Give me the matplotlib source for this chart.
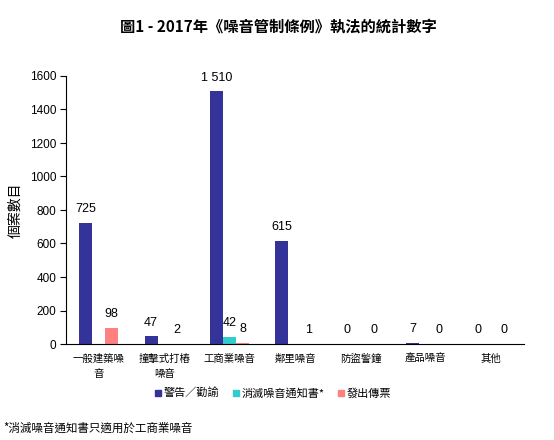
import matplotlib
matplotlib.use("Agg")
import matplotlib.pyplot as plt
import numpy as np

plt.rcParams['font.family'] = ['Noto Sans CJK TC', 'DejaVu Sans']

categories = ["一般建築噪\n音", "撞擊式打樁\n噪音", "工商業噪音", "鄰里噪音", "防盜警鐘", "產品噪音", "其他"]
warnings = [725, 47, 1510, 615, 0, 7, 0]
notices = [np.nan, np.nan, 42, np.nan, np.nan, np.nan, np.nan]
tickets = [98, 2, 8, 1, 0, 0, 0]
series_names = ["警告／勸諭", "消滅噪音通知書*", "發出傳票"]
colors = ["#333399", "#33CCCC", "#FF8080"]
yticks = [0, 200, 400, 600, 800, 1000, 1200, 1400, 1600]

fig = plt.figure(figsize=(5.54, 4.4), dpi=100)
ax = fig.add_axes([66/554, 1-344/440, (524-66)/554, (344-76)/440])

x = np.arange(len(categories))
w = 0.2
def fmt(v):
    return f"{int(v):,}".replace(",", " ")

for i, (vals, c, name) in enumerate(zip([warnings, notices, tickets], colors, series_names)):
    xs = x + (i - 1) * w
    ax.bar(xs, vals, width=w, color=c, label=name)
    for xi, v in zip(xs, vals):
        if isinstance(v, float) and np.isnan(v):
            continue
        ax.text(xi, v + 45, fmt(v), ha='center', va='bottom', fontsize=9,
                family=['Liberation Sans'])

ax.set_xlim(-0.5, len(categories) - 0.5)
ax.set_ylim(0, 1600)
ax.set_yticks(yticks)
ax.set_yticklabels([str(t) for t in yticks], fontsize=8.5, family=['Liberation Sans'])
ax.set_xticks(x)
ax.set_xticklabels(categories, fontsize=7.5, linespacing=1.6)
ax.tick_params(axis='x', length=0, pad=7)
ax.tick_params(axis='y', length=4, direction='out', pad=3)
for s in ['top', 'right']:
    ax.spines[s].set_visible(False)
ax.set_ylabel("個案數目", fontsize=10)
ax.yaxis.set_label_coords(-44/458, 0.5)

fig.text(278/554, 1-27/440, "圖1 - 2017年《噪音管制條例》執法的統計數字", ha='center', va='center',
         fontsize=11, fontweight='bold')

handles = [plt.Line2D([], [], marker='s', linestyle='none', color=c, markersize=4) for c in colors]
fig.legend(handles, series_names, loc='center', bbox_to_anchor=(272/554, 1-393/440), ncol=3,
           frameon=False, fontsize=8, handletextpad=0.0, columnspacing=1.0, handlelength=1.0)

fig.text(3/554, 1-428/440, "*消滅噪音通知書只適用於工商業噪音", ha='left', va='center', fontsize=8.3)

fig.savefig("out.png", dpi=100)
